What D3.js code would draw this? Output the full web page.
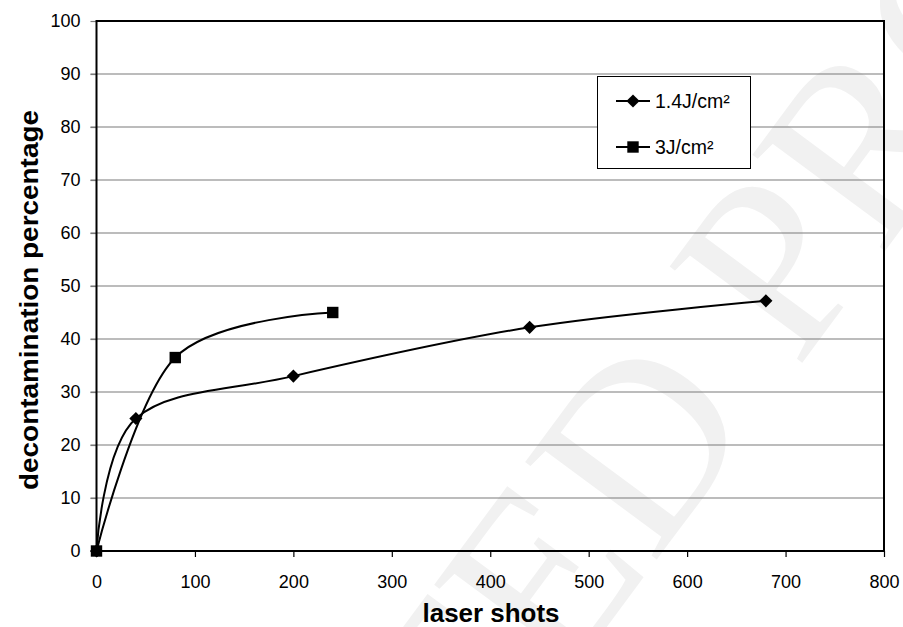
<!DOCTYPE html>
<html>
<head>
<meta charset="utf-8">
<script src="https://cdn.jsdelivr.net/npm/d3@7"></script>
<style>
  body { margin: 0; background: #fff; }
  text { font-family: "Liberation Sans", Arial, sans-serif; }
</style>
</head>
<body>
<svg id="chart" width="903" height="627"></svg>
<script>
// data
var shots14 = [0, 40, 200, 440, 680];
var decon14 = [0, 25, 33, 42.2, 47.2];
var shots3 = [0, 80, 240];
var decon3 = [0, 36.5, 45];
var xTicks = [0, 100, 200, 300, 400, 500, 600, 700, 800];
var yTicks = [0, 10, 20, 30, 40, 50, 60, 70, 80, 90, 100];
var seriesNames = ["1.4J/cm\u00b2", "3J/cm\u00b2"];

var svg = d3.select("#chart");
var plotL = 96.5, plotR = 884, plotT = 21, plotB = 551;

var x = d3.scaleLinear().domain([0, 800]).range([plotL, plotR]);
var y = d3.scaleLinear().domain([0, 100]).range([plotB, plotT]);

// faint watermark
svg.append("text")
    .attr("transform", "translate(566,540) rotate(-53.5)")
    .attr("text-anchor", "middle")
    .attr("dominant-baseline", "central")
    .style("font-family", "'Liberation Serif', 'DejaVu Serif', serif")
    .style("font-size", "250px")
    .style("fill", "#f1f1f1")
    .text("ACCEPTED PROOF");

// gridlines
svg.append("g").selectAll("line")
    .data(yTicks.slice(1, -1))
    .enter().append("line")
    .attr("x1", plotL - 6).attr("x2", plotR)
    .attr("y1", function (d) { return y(d); })
    .attr("y2", function (d) { return y(d); })
    .style("stroke", "#7a7a7a").style("stroke-width", 1.2);

// y axis
var yAxis = svg.append("g")
    .attr("transform", "translate(" + plotL + ",0)")
    .call(d3.axisLeft(y).tickValues(yTicks).tickSize(6).tickPadding(10));
yAxis.select(".domain").remove();
yAxis.selectAll(".tick line").style("stroke", "#7a7a7a").style("stroke-width", 1.2);
yAxis.selectAll("text").style("font-size", "18px").style("fill", "#000");

// x axis
var xAxis = svg.append("g")
    .attr("transform", "translate(0," + plotB + ")")
    .call(d3.axisBottom(x).tickValues(xTicks).tickSize(6).tickPadding(18));
xAxis.select(".domain").remove();
xAxis.selectAll(".tick line").style("stroke", "#000").style("stroke-width", 1.2);
xAxis.selectAll("text").style("font-size", "18px").style("fill", "#000");

// plot frame
svg.append("rect")
    .attr("x", plotL).attr("y", plotT)
    .attr("width", plotR - plotL).attr("height", plotB - plotT)
    .style("fill", "none").style("stroke", "#000").style("stroke-width", 2);

// series
var line = d3.line()
    .x(function (d) { return x(d[0]); })
    .y(function (d) { return y(d[1]); })
    .curve(d3.curveCatmullRom.alpha(0));

var pts14 = shots14.map(function (s, i) { return [s, decon14[i]]; });
var pts3 = shots3.map(function (s, i) { return [s, decon3[i]]; });

svg.append("path").datum(pts14).attr("d", line)
    .style("fill", "none").style("stroke", "#000").style("stroke-width", 2);
svg.append("path").datum(pts3).attr("d", line)
    .style("fill", "none").style("stroke", "#000").style("stroke-width", 2);

var diamond = d3.symbol().type(d3.symbolDiamond2).size(110);
var square = d3.symbol().type(d3.symbolSquare).size(130);

svg.append("g").selectAll("path")
    .data(pts14).enter().append("path")
    .attr("d", diamond)
    .attr("transform", function (d) { return "translate(" + x(d[0]) + "," + y(d[1]) + ")"; })
    .style("fill", "#000");
svg.append("g").selectAll("path")
    .data(pts3).enter().append("path")
    .attr("d", square)
    .attr("transform", function (d) { return "translate(" + x(d[0]) + "," + y(d[1]) + ")"; })
    .style("fill", "#000");

// legend
var lg = svg.append("g");
lg.append("rect")
    .attr("x", 597.5).attr("y", 76.5).attr("width", 153).attr("height", 92)
    .style("fill", "#fff").style("stroke", "#000").style("stroke-width", 1);
var markers = [diamond, square];
seriesNames.forEach(function (name, i) {
    var ly = 101 + i * 46;
    lg.append("line").attr("x1", 616).attr("x2", 650).attr("y1", ly).attr("y2", ly)
        .style("stroke", "#000").style("stroke-width", 2);
    lg.append("path").attr("d", markers[i])
        .attr("transform", "translate(633," + ly + ")").style("fill", "#000");
    lg.append("text").attr("x", 655).attr("y", ly)
        .attr("dy", "0.36em")
        .style("font-size", "19.5px")
        .text(name);
});

// axis titles
svg.append("text")
    .attr("x", 491).attr("y", 622)
    .attr("text-anchor", "middle")
    .attr("textLength", 137).attr("lengthAdjust", "spacingAndGlyphs")
    .style("font-size", "25px").style("font-weight", "bold")
    .text("laser shots");
svg.append("text")
    .attr("transform", "translate(38,300) rotate(-90)")
    .attr("text-anchor", "middle")
    .attr("textLength", 380).attr("lengthAdjust", "spacingAndGlyphs")
    .style("font-size", "25px").style("font-weight", "bold")
    .text("decontamination percentage");
</script>
</body>
</html>
